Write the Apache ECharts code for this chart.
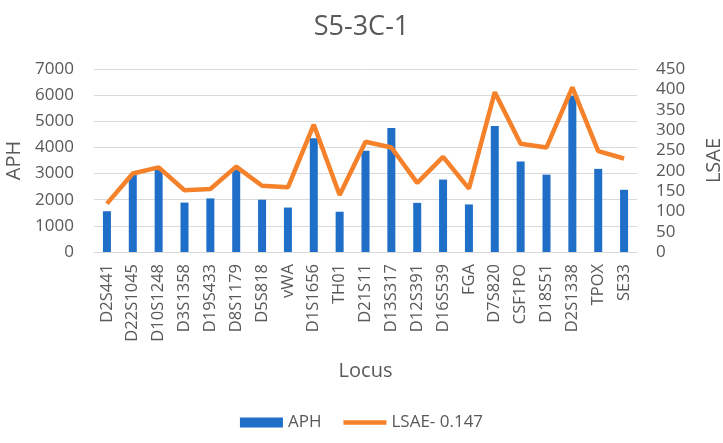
<!DOCTYPE html>
<html><head><meta charset="utf-8">
<script src="https://cdn.jsdelivr.net/npm/echarts@6/dist/echarts.min.js"></script>
<style>html,body{margin:0;padding:0;background:#fff}#c{width:723px;height:443px}</style>
</head><body><div id="c"></div>
<script>
const categories = ["D2S441","D22S1045","D10S1248","D3S1358","D19S433","D8S1179","D5S818","vWA","D1S1656","TH01","D21S11","D13S317","D12S391","D16S539","FGA","D7S820","CSF1PO","D18S51","D2S1338","TPOX","SE33"];
const aph = [1560,2950,3150,1890,2050,3150,2000,1700,4350,1540,3870,4740,1880,2770,1820,4820,3460,2960,5980,3180,2380];
const lsae = [119,193,208,152,155,210,163,159,313,140,271,257,170,234,156,393,266,257,405,248,230];
const leftTicks = {min:0,max:7000,interval:1000};
const rightTicks = {min:0,max:450,interval:50};
const font = '"Open Sans", "Noto Sans", sans-serif';
const grey = '#595959';
const chart = echarts.init(document.getElementById('c'));
chart.setOption({
  animation:false,
  textStyle:{fontFamily:font},
  title:{text:'S5-3C-1',left:'center',top:9,textStyle:{fontFamily:font,fontSize:27,fontWeight:'normal',color:grey}},
  grid:{left:94,right:86,top:69,bottom:191,containLabel:false,outerBoundsMode:'none'},
  legend:{bottom:7,left:'center',itemGap:22,itemWidth:43,itemHeight:10,textStyle:{fontFamily:font,fontSize:17,color:grey},
    data:[{name:'APH',icon:'rect'},{name:'LSAE- 0.147',icon:'path://M0,0 L10,0 L10,1 L0,1 Z'}]},
  xAxis:{type:'category',data:categories,name:'Locus',nameLocation:'middle',nameGap:109,
    nameTextStyle:{fontSize:20,color:grey},
    axisLine:{lineStyle:{color:'#d9d9d9'}},axisTick:{show:false},
    axisLabel:{rotate:90,interval:0,fontSize:16.5,color:grey,margin:12}},
  yAxis:[
    {type:'value',min:leftTicks.min,max:leftTicks.max,interval:leftTicks.interval,name:'APH',nameLocation:'middle',nameGap:68,
     nameTextStyle:{fontSize:20,color:grey},axisLabel:{fontSize:17,color:grey,margin:20,formatter:v=>String(v)},
     splitLine:{lineStyle:{color:'#d9d9d9'}},axisLine:{show:false}},
    {type:'value',min:rightTicks.min,max:rightTicks.max,interval:rightTicks.interval,name:'LSAE',nameLocation:'middle',nameGap:67,
     nameTextStyle:{fontSize:20,color:grey},axisLabel:{fontSize:17,color:grey,margin:19},
     splitLine:{show:false},axisLine:{show:false}}
  ],
  series:[
    {name:'APH',type:'bar',data:aph,barWidth:8,itemStyle:{color:'#1f6fc9'},yAxisIndex:0},
    {name:'LSAE- 0.147',type:'line',data:lsae,yAxisIndex:1,symbol:'none',lineStyle:{color:'#f5822a',width:4.5},itemStyle:{color:'#f5822a'}}
  ]
});
</script></body></html>
